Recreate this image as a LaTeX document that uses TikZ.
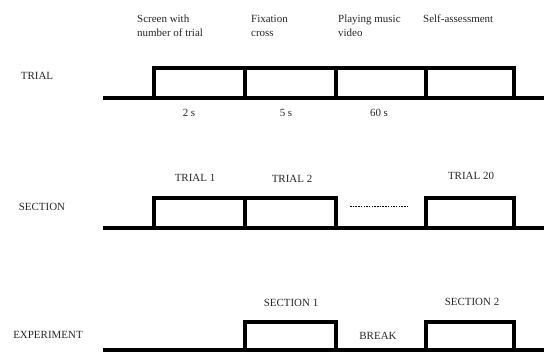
\documentclass[tikz,border=0pt]{standalone}
\usepackage{fontspec}
\setmainfont{Liberation Serif}
\begin{document}
\begin{tikzpicture}[x=1bp,y=-1bp,
  lbl/.style={inner sep=0pt,font=\fontsize{11}{14}\selectfont,text=black!85},
  lbll/.style={lbl,anchor=west,align=left},
  tl/.style={line width=4bp,line join=miter,line cap=butt},
  dv/.style={line width=3.2bp,line cap=butt}]
\useasboundingbox (0,0) rectangle (544,352);
% ---------- TRIAL row ----------
\draw[tl] (103,98) -- (544,98);
\draw[tl] (154,98) -- (154,68) -- (514,68) -- (514,98);
\foreach \x in {245,336,426} \draw[dv] (\x,68) -- (\x,98);
\node[lbl] (trial) at (37,76) {TRIAL};
\node[lbll] (s1) at (137,26) {Screen with\\number of trial};
\node[lbll] (s2) at (251,26) {Fixation\\cross};
\node[lbll] (s3) at (338,26) {Playing music\\video};
\node[lbll] (s4) at (423,19) {Self-assessment};
\node[lbl] (t1) at (189,113) {2 s};
\node[lbl] (t2) at (286,113) {5 s};
\node[lbl] (t3) at (379,113) {60 s};
% ---------- SECTION row ----------
\draw[tl] (103,228) -- (544,228);
\draw[tl] (154,228) -- (154,198) -- (336,198) -- (336,228);
\draw[dv] (245,198) -- (245,228);
\draw[tl] (426,228) -- (426,198) -- (514,198) -- (514,228);
\draw[line width=0.9bp,dash pattern=on 1.5bp off 1.2bp] (350,206) -- (409,206);
\node[lbl] (sec) at (42,207) {SECTION};
\node[lbl] (tr1) at (195,178) {TRIAL 1};
\node[lbl] (tr2) at (292,179) {TRIAL 2};
\node[lbl] (tr20) at (471,176) {TRIAL 20};
% ---------- EXPERIMENT row ----------
\draw[tl] (103,350) -- (544,350);
\draw[tl] (245,350) -- (245,322) -- (336,322) -- (336,350);
\draw[tl] (426,350) -- (426,322) -- (514,322) -- (514,350);
\node[lbl] (exp) at (48,335) {EXPERIMENT};
\node[lbl] (se1) at (291,303) {SECTION 1};
\node[lbl] (se2) at (472,302) {SECTION 2};
\node[lbl] (brk) at (378,336) {BREAK};
\end{tikzpicture}
\end{document}
